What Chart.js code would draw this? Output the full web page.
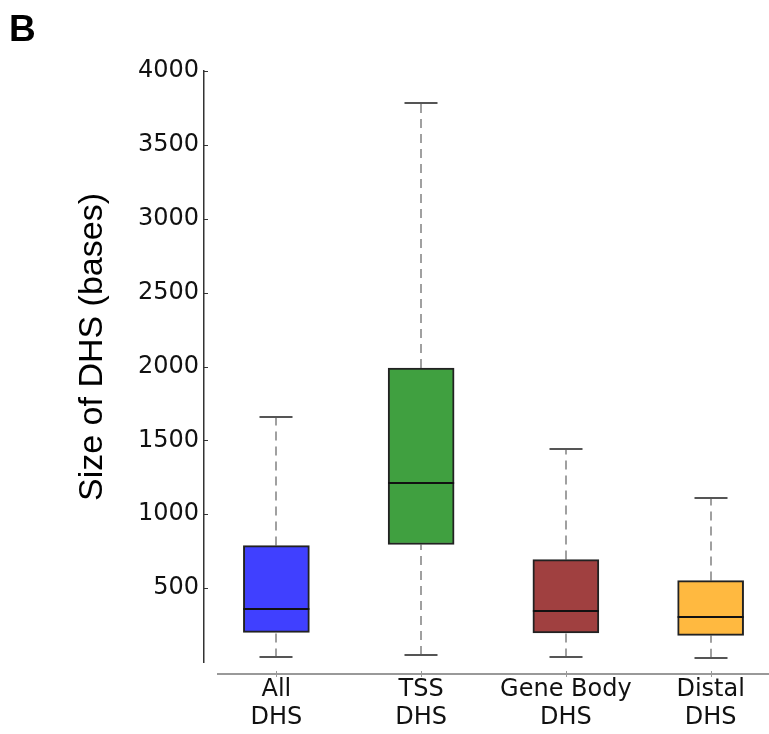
<!DOCTYPE html>
<html>
<head>
<meta charset="utf-8">
<script src="https://cdn.jsdelivr.net/npm/chart.js@4"></script>
<style>
  html, body { margin: 0; padding: 0; background: #fff; overflow: hidden; }
  #wrap { width: 783px; height: 734px; }
</style>
</head>
<body>
<div id="wrap"><canvas id="c" width="783" height="734"></canvas></div>
<script>
// ---- data ----
const categories = [['All', 'DHS'], ['TSS', 'DHS'], ['Gene Body', 'DHS'], ['Distal', 'DHS']];
const whiskerLow  = [31, 47, 31, 29];
const q1          = [200, 795, 196, 180];
const median      = [360, 1213, 342, 304];
const q3          = [788, 1990, 693, 551];
const whiskerHigh = [1656, 3784, 1441, 1112];
const boxColors   = ['#4040ff', '#40a040', '#a04040', '#ffb940'];
const yTicks      = [500, 1000, 1500, 2000, 2500, 3000, 3500, 4000];
const yTitle      = 'Size of DHS (bases)';
const panelLabel  = 'B';

const boxPlugin = {
  id: 'boxParts',
  beforeDatasetsDraw(chart) {
    const ctx = chart.ctx, y = chart.scales.y;
    const meta = chart.getDatasetMeta(0);
    ctx.save();
    meta.data.forEach((bar, i) => {
      const x = Math.round(bar.x), half = bar.width / 4;
      // dashed whiskers
      ctx.strokeStyle = '#a0a0a0';
      ctx.lineWidth = 2;
      ctx.setLineDash([9, 6]);
      ctx.beginPath();
      ctx.moveTo(x, y.getPixelForValue(q3[i]));
      ctx.lineTo(x, y.getPixelForValue(whiskerHigh[i]));
      ctx.moveTo(x, y.getPixelForValue(whiskerLow[i]));
      ctx.lineTo(x, y.getPixelForValue(q1[i]));
      ctx.stroke();
      // caps
      ctx.setLineDash([]);
      ctx.strokeStyle = '#555555';
      ctx.lineWidth = 2;
      ctx.beginPath();
      [whiskerHigh[i], whiskerLow[i]].forEach(v => {
        const py = Math.round(y.getPixelForValue(v));
        ctx.moveTo(x - half, py);
        ctx.lineTo(x + half, py);
      });
      ctx.stroke();
    });
    ctx.restore();
  },
  afterDatasetsDraw(chart) {
    const ctx = chart.ctx, y = chart.scales.y;
    const meta = chart.getDatasetMeta(0);
    ctx.save();
    ctx.strokeStyle = '#111111';
    ctx.lineWidth = 2;
    meta.data.forEach((bar, i) => {
      const py = Math.round(y.getPixelForValue(median[i]));
      ctx.beginPath();
      ctx.moveTo(bar.x - bar.width / 2, py);
      ctx.lineTo(bar.x + bar.width / 2, py);
      ctx.stroke();
    });
    ctx.restore();
  },
  afterDraw(chart) {
    const ctx = chart.ctx, y = chart.scales.y, x = chart.scales.x;
    const area = chart.chartArea;
    ctx.save();
    // inward y tick marks
    ctx.strokeStyle = '#333333';
    ctx.lineWidth = 1.2;
    ctx.beginPath();
    yTicks.forEach(v => {
      const py = Math.round(y.getPixelForValue(v)) + 0.5;
      ctx.moveTo(area.left, py);
      ctx.lineTo(area.left + 4, py);
    });
    ctx.stroke();
    // offset x spine
    const sy = area.bottom + 12;
    ctx.strokeStyle = '#999999';
    ctx.lineWidth = 2;
    ctx.beginPath();
    ctx.moveTo(area.left + 13, sy);
    ctx.lineTo(chart.width, sy);
    ctx.stroke();
    ctx.lineWidth = 1;
    ctx.beginPath();
    categories.forEach((c, i) => {
      const px = Math.round(x.getPixelForValue(i)) + 0.5;
      ctx.moveTo(px, sy - 3);
      ctx.lineTo(px, sy + 3);
    });
    ctx.stroke();
    // y title
    ctx.fillStyle = '#000000';
    ctx.font = '34px "Liberation Sans", Arial, sans-serif';
    ctx.textAlign = 'center';
    ctx.textBaseline = 'middle';
    ctx.translate(93, 347);
    ctx.rotate(-Math.PI / 2);
    ctx.fillText(yTitle, 0, 0);
    ctx.restore();
    // panel label
    ctx.save();
    ctx.fillStyle = '#000000';
    ctx.font = 'bold 37px "Liberation Sans", Arial, sans-serif';
    ctx.textAlign = 'left';
    ctx.textBaseline = 'alphabetic';
    ctx.fillText(panelLabel, 9, 41);
    ctx.restore();
  }
};

new Chart(document.getElementById('c'), {
  type: 'bar',
  data: {
    labels: categories,
    datasets: [{
      data: q1.map((v, i) => [v, q3[i]]),
      backgroundColor: boxColors,
      borderColor: '#222222',
      borderWidth: 2,
      borderSkipped: false,
      barThickness: 66
    }]
  },
  options: {
    responsive: false,
    animation: false,
    devicePixelRatio: 1,
    layout: { padding: { top: 71, left: 0, right: 0, bottom: 0 } },
    plugins: { legend: { display: false }, tooltip: { enabled: false } },
    scales: {
      x: {
        type: 'category',
        offset: true,
        grid: { display: false, drawTicks: false },
        border: { display: false },
        afterFit(scale) { scale.height = 72; },
        ticks: {
          color: '#111111',
          font: { family: '"DejaVu Sans"', size: 24, lineHeight: 1.17 },
          padding: 14,
          maxRotation: 0,
          autoSkip: false
        }
      },
      y: {
        min: 0,
        max: 4000,
        grid: { display: false, drawTicks: false },
        border: { display: true, color: '#333333', width: 1.5 },
        afterFit(scale) { scale.width = 204; },
        afterBuildTicks(scale) { scale.ticks = [0].concat(yTicks).map(v => ({ value: v })); },
        ticks: {
          color: '#111111',
          font: { family: '"DejaVu Sans"', size: 24 },
          padding: 5,
          callback: v => (v === 0 ? '' : String(v))
        }
      }
    }
  },
  plugins: [boxPlugin]
});
</script>
</body>
</html>
